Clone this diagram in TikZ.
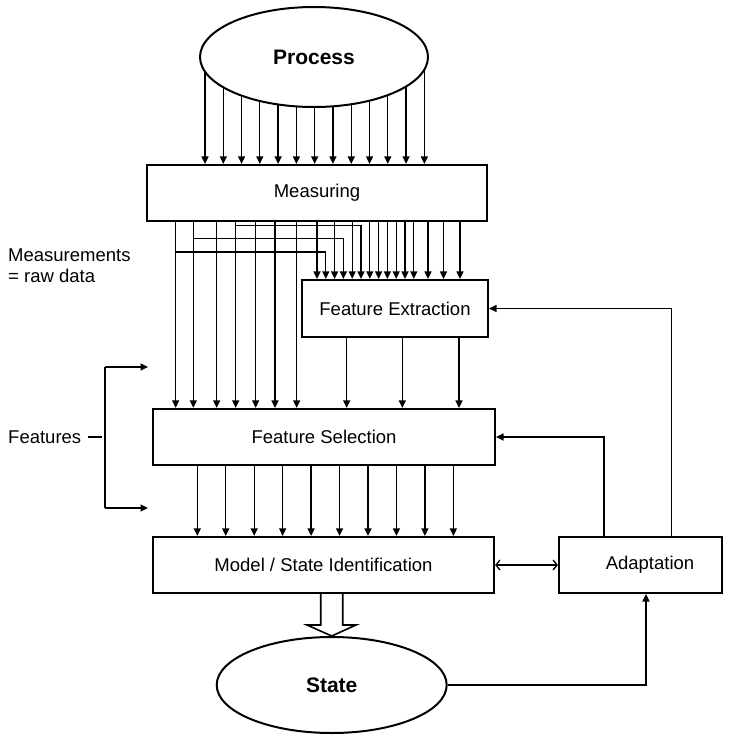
\documentclass[tikz,border=0pt]{standalone}
\usepackage{fontspec}
\setmainfont{Liberation Sans}
\usetikzlibrary{arrows.meta,shapes.geometric,backgrounds}
\begin{document}
\begin{tikzpicture}[x=1pt,y=-1pt,
  font=\fontsize{18.5}{21}\selectfont,
  box/.style={draw,line width=2.2pt,minimum height=56pt,inner sep=0pt,fill=white},
  blob/.style={draw,ellipse,line width=2pt,inner sep=0pt,fill=white,
               font=\fontsize{21}{24}\selectfont\bfseries},
  arr/.style={line width=1.3pt,-{Triangle[length=7.5pt,width=7pt]}},
  wire/.style={line width=1.3pt},
  dbl/.style={line width=1.3pt,
              {Straight Barb[length=4pt,width=10pt]}-{Straight Barb[length=4pt,width=10pt]}},
  hollow/.style={line width=1.6pt,fill=white,line join=miter}
]
\useasboundingbox (0,0) rectangle (737,737);

% main blocks
\node[blob,minimum width=228pt,minimum height=100pt] (proc) at (314,57) {Process};
\node[box,minimum width=340pt] (meas)  at (317,193)   {Measuring};
\node[box,minimum width=186pt,minimum height=57pt] (fext) at (395,308.5) {Feature Extraction};
\node[box,minimum width=342pt] (fsel)  at (324,437)   {Feature Selection};
\node[box,minimum width=341pt] (model) at (323.5,565) {Model / State Identification};
\node[box,minimum width=163pt] (adapt) at (640.5,565) {\hspace*{19pt}Adaptation};
\node[blob,minimum width=230pt,minimum height=96pt] (state) at (331.7,685) {State};

% side labels
\node[anchor=north west,align=left,inner sep=0pt] (meslab) at (8,249) {Measurements\\= raw data};
\node[anchor=west,inner sep=0pt] (featlab) at (8,437) {Features};

% process outputs, drawn under the ellipse
\begin{pgfonlayer}{background}
\foreach \k in {0,...,12}{
  \draw[arr] ({205+18.28*\k},0 |- proc.center) -- ({205+18.28*\k},0 |- meas.north);
}
\end{pgfonlayer}

% raw measurements passed straight to feature selection
\foreach \x in {175.7,193.3,216.7,235.7,255.7,275,296.7}{
  \draw[arr] (\x,0 |- meas.south) -- (\x,0 |- fsel.north);
}

% raw measurements into feature extraction
\foreach \x in {317,334.6,352.2,369.8,378.6,387.4,396.2,405,413.8,428,443.5,460}{
  \draw[arr] (\x,0 |- meas.south) -- (\x,0 |- fext.north);
}

% branches taken off the left-hand measurement lines
\draw[arr] (175.7,252)   -| (325.8,0 |- fext.north);
\draw[arr] (193.3,238.5) -| (343.4,0 |- fext.north);
\draw[arr] (235.7,225.5) -| (361,0 |- fext.north);

% extracted features into selection
\foreach \x in {346.7,402.3,459}{
  \draw[arr] (\x,0 |- fext.south) -- (\x,0 |- fsel.north);
}

% selected features into identification
\foreach \k in {0,...,9}{
  \draw[arr] ({197.3+28.45*\k},0 |- fsel.south) -- ({197.3+28.45*\k},0 |- model.north);
}

% identification result
\draw[hollow] (320.7,0 |- model.south) -- (320.7,625) -- (307,625) -- (state.north)
  -- (356,625) -- (342.7,625) -- (342.7,0 |- model.south);

% adaptation loop
\draw[dbl] (model.east) -- (adapt.west);
\draw[arr] (state.east) -| (646,0 |- adapt.south);
\draw[arr] (604,0 |- adapt.north) |- (fsel.east);
\draw[arr] (671.7,0 |- adapt.north) |- (fext.east);

% features bracket
\coordinate (btop) at (105,367);
\coordinate (bbot) at (105,508);
\draw[wire] (btop) -- (bbot);
\draw[arr] (btop) -- (148,367);
\draw[arr] (bbot) -- (148,508);
\draw[wire] (featlab.east) ++(7,0) -- (102,437);
\end{tikzpicture}
\end{document}
